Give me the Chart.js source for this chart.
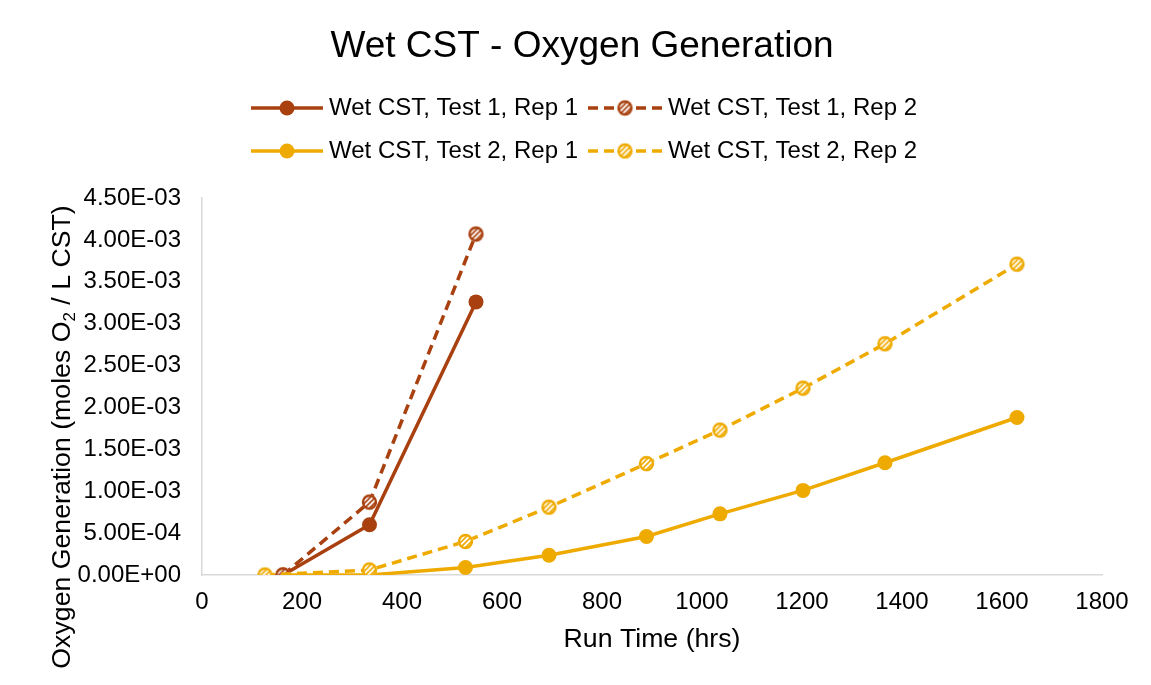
<!DOCTYPE html>
<html>
<head>
<meta charset="utf-8">
<script src="https://cdn.jsdelivr.net/npm/chart.js@4.4.1/dist/chart.umd.min.js"></script>
<style>
  html, body { margin: 0; padding: 0; background: #ffffff; }
  #wrap { width: 1151px; height: 685px; position: relative; }
</style>
</head>
<body>
<div id="wrap"><canvas id="c" width="1151" height="685"></canvas></div>
<script>
// ---------------- DATA ----------------
const chartTitle = 'Wet CST - Oxygen Generation';
const seriesNames = [
  'Wet CST, Test 1, Rep 1',
  'Wet CST, Test 1, Rep 2',
  'Wet CST, Test 2, Rep 1',
  'Wet CST, Test 2, Rep 2'
];
const test1Hours = [162, 335, 548];
const test1Rep1 = [0, 6.0e-4, 3.26e-3];
const test1Rep2 = [0, 8.7e-4, 4.07e-3];
const test2Rep1Hours = [162, 335, 527, 694, 889, 1036, 1202, 1366, 1630];
const test2Rep1 = [0, 0, 9.0e-5, 2.35e-4, 4.6e-4, 7.3e-4, 1.01e-3, 1.34e-3, 1.88e-3];
const test2Rep2Hours = [126, 335, 527, 694, 889, 1036, 1202, 1366, 1630];
const test2Rep2 = [0, 6.0e-5, 4.0e-4, 8.1e-4, 1.33e-3, 1.73e-3, 2.23e-3, 2.76e-3, 3.71e-3];
const xTickValues = [0, 200, 400, 600, 800, 1000, 1200, 1400, 1600, 1800];
const yTickValues = [0, 5e-4, 1e-3, 1.5e-3, 2e-3, 2.5e-3, 3e-3, 3.5e-3, 4e-3, 4.5e-3];
const xAxisTitle = 'Run Time (hrs)';
const yAxisTitleParts = ['Oxygen Generation (moles O', '2', ' / L CST)'];

// ---------------- STYLE ----------------
const FONT = '"Liberation Sans", Arial, Helvetica, sans-serif';
const DARK = '#A9400F';
const GOLD = '#EFAA00';

function hatchMarker(color, r) {
  const size = Math.ceil(r * 2 + 4);
  const cv = document.createElement('canvas');
  cv.width = size; cv.height = size;
  const g = cv.getContext('2d');
  const c = size / 2;
  g.beginPath(); g.arc(c, c, r, 0, Math.PI * 2); g.fillStyle = '#ffffff'; g.fill();
  g.save();
  g.beginPath(); g.arc(c, c, r - 1, 0, Math.PI * 2); g.clip();
  g.strokeStyle = color; g.lineWidth = 1.6;
  for (let k = -size; k < size * 2; k += 5) {
    g.beginPath(); g.moveTo(k, size); g.lineTo(k + size, 0); g.stroke();
  }
  g.restore();
  g.beginPath(); g.arc(c, c, r - 1, 0, Math.PI * 2);
  g.strokeStyle = color; g.lineWidth = 2.4; g.stroke();
  return cv;
}
const hatchDark = hatchMarker(DARK, 7.5);
const hatchGold = hatchMarker(GOLD, 7.5);

function pts(xs, ys) { return xs.map((x, i) => ({ x: x, y: ys[i] })); }

function fmtSci(v) {
  const s = Number(v).toExponential(2);
  const [m, e] = s.split('e');
  const n = parseInt(e, 10);
  const sign = n < 0 ? '-' : '+';
  const a = Math.abs(n);
  return m + 'E' + sign + (a < 10 ? '0' + a : String(a));
}

const datasets = [
  { label: seriesNames[0], data: pts(test1Hours, test1Rep1), borderColor: DARK, backgroundColor: DARK,
    borderWidth: 3.5, pointRadius: 7.5, pointBorderWidth: 0, pointStyle: 'circle', order: 3 },
  { label: seriesNames[1], data: pts(test1Hours, test1Rep2), borderColor: DARK, backgroundColor: DARK,
    borderWidth: 3.5, borderDash: [10, 6], pointStyle: hatchDark, order: 2 },
  { label: seriesNames[2], data: pts(test2Rep1Hours, test2Rep1), borderColor: GOLD, backgroundColor: GOLD,
    borderWidth: 3.5, pointRadius: 7.5, pointBorderWidth: 0, pointStyle: 'circle', order: 4 },
  { label: seriesNames[3], data: pts(test2Rep2Hours, test2Rep2), borderColor: GOLD, backgroundColor: GOLD,
    borderWidth: 3.5, borderDash: [10, 6], pointStyle: hatchGold, order: 1 }
];
datasets.forEach(d => { d.tension = 0; d.fill = false; d.borderCapStyle = 'butt'; d.pointHoverRadius = d.pointRadius || 7; });

// ---------------- CUSTOM TEXT / LEGEND ----------------
const decorPlugin = {
  id: 'decor',
  afterDraw(chart) {
    const ctx = chart.ctx;
    ctx.save();
    ctx.fillStyle = '#000000';
    ctx.font = '37px ' + FONT;
    ctx.textAlign = 'center';
    ctx.textBaseline = 'middle';
    ctx.fillText(chartTitle, 582, 47);

    const colLine = [[251, 323], [588, 662]];
    const colText = [329, 668];
    const rowY = [108, 151];
    chart.data.datasets.forEach((ds, i) => {
      const col = i % 2, row = Math.floor(i / 2);
      const y = rowY[row];
      const [x1, x2] = colLine[col];
      ctx.save();
      ctx.strokeStyle = ds.borderColor;
      ctx.lineWidth = ds.borderWidth;
      ctx.setLineDash(ds.borderDash || []);
      ctx.beginPath(); ctx.moveTo(x1, y); ctx.lineTo(x2, y); ctx.stroke();
      ctx.setLineDash([]);
      const cx = (x1 + x2) / 2;
      if (typeof ds.pointStyle === 'string') {
        ctx.fillStyle = ds.backgroundColor;
        ctx.beginPath(); ctx.arc(cx, y, ds.pointRadius, 0, Math.PI * 2); ctx.fill();
      } else {
        const im = ds.pointStyle;
        ctx.drawImage(im, cx - im.width / 2, y - im.height / 2);
      }
      ctx.restore();
      ctx.fillStyle = '#000000';
      ctx.font = '24px ' + FONT;
      ctx.textAlign = 'left';
      ctx.textBaseline = 'middle';
      ctx.fillText(ds.label, colText[col], y);
    });

    ctx.font = '26.7px ' + FONT;
    ctx.textAlign = 'center';
    ctx.textBaseline = 'middle';
    const area = chart.chartArea;
    ctx.fillText(xAxisTitle, (area.left + area.right) / 2, 640);

    ctx.translate(63, 437);
    ctx.rotate(-Math.PI / 2);
    const big = '26.7px ' + FONT, small = '17px ' + FONT;
    ctx.font = big; const w0 = ctx.measureText(yAxisTitleParts[0]).width;
    ctx.font = small; const w1 = ctx.measureText(yAxisTitleParts[1]).width;
    ctx.font = big; const w2 = ctx.measureText(yAxisTitleParts[2]).width;
    let x = -(w0 + w1 + w2) / 2;
    ctx.textAlign = 'left';
    ctx.font = big; ctx.fillText(yAxisTitleParts[0], x, 0); x += w0;
    ctx.font = small; ctx.fillText(yAxisTitleParts[1], x, 7); x += w1;
    ctx.font = big; ctx.fillText(yAxisTitleParts[2], x, 0);
    ctx.restore();
  }
};

Chart.defaults.font.family = FONT;
Chart.defaults.color = '#000000';

new Chart(document.getElementById('c'), {
  type: 'line',
  data: { datasets: datasets },
  plugins: [decorPlugin],
  options: {
    responsive: false,
    animation: false,
    devicePixelRatio: 1,
    layout: { padding: { top: 198, left: 0, right: 49, bottom: 0 } },
    plugins: { legend: { display: false }, title: { display: false }, tooltip: { enabled: false } },
    scales: {
      x: {
        type: 'linear',
        min: xTickValues[0],
        max: xTickValues[xTickValues.length - 1],
        afterBuildTicks: s => { s.ticks = xTickValues.map(v => ({ value: v })); },
        afterFit: s => { s.height = 110; },
        grid: { display: false, drawTicks: false },
        border: { display: true, color: '#D9D9D9', width: 1.5 },
        ticks: { font: { size: 24 }, color: '#000000', padding: 13, maxRotation: 0, autoSkip: false,
                 callback: v => String(v) }
      },
      y: {
        type: 'linear',
        min: yTickValues[0],
        max: yTickValues[yTickValues.length - 1],
        afterBuildTicks: s => { s.ticks = yTickValues.map(v => ({ value: v })); },
        afterFit: s => { s.width = 202; },
        grid: { display: false, drawTicks: false },
        border: { display: true, color: '#D9D9D9', width: 1.5 },
        ticks: { font: { size: 24 }, color: '#000000', padding: 21, autoSkip: false,
                 callback: v => fmtSci(v) }
      }
    }
  }
});
</script>
</body>
</html>
